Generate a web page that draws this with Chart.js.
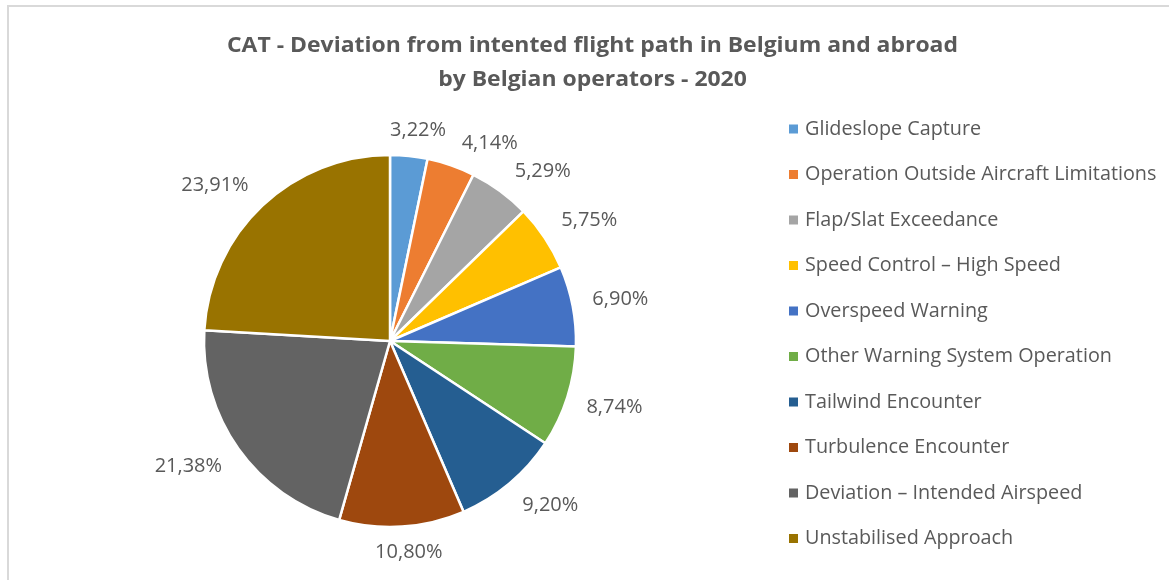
<!DOCTYPE html>
<html>
<head>
<meta charset="utf-8">
<script src="https://cdn.jsdelivr.net/npm/chart.js@4/dist/chart.umd.min.js"></script>
<style>
    html, body { margin: 0; padding: 0; background: #fff; }
    #wrap { position: relative; width: 1169px; height: 580px; }
</style>
</head>
<body>
<div id="wrap"><canvas id="pieChart" width="1169" height="580"></canvas></div>
<script>
// Dữ liệu biểu đồ
const categories = [
    'Glideslope Capture',
    'Operation Outside Aircraft Limitations',
    'Flap/Slat Exceedance',
    'Speed Control \u2013 High Speed',
    'Overspeed Warning',
    'Other Warning System Operation',
    'Tailwind Encounter',
    'Turbulence Encounter',
    'Deviation \u2013 Intended Airspeed',
    'Unstabilised Approach'
];
const percentages = [3.22, 4.14, 5.29, 5.75, 6.90, 8.74, 9.20, 10.80, 21.38, 23.91];
const sliceColors = ['#5B9BD5', '#ED7D31', '#A5A5A5', '#FFC000', '#4472C4', '#70AD47', '#255E91', '#9E480E', '#636363', '#997300'];
const titleLines = ['CAT - Deviation from intented flight path in Belgium and abroad', 'by Belgian operators - 2020'];

const textColor = '#595959';

// Khung viền xám nhạt quanh biểu đồ
const framePlugin = {
    id: 'frame',
    beforeDraw(chart) {
        const ctx = chart.ctx;
        ctx.save();
        ctx.strokeStyle = '#d9d9d9';
        ctx.lineWidth = 2;
        ctx.beginPath();
        ctx.moveTo(8, chart.height + 5);
        ctx.lineTo(8, 6);
        ctx.lineTo(chart.width + 5, 6);
        ctx.stroke();
        ctx.restore();
    }
};

// Tiêu đề 2 dòng, căn giữa theo khung
const titlePlugin = {
    id: 'bigTitle',
    afterDraw(chart) {
        const ctx = chart.ctx;
        ctx.save();
        ctx.font = 'bold 20.5px "Open Sans"';
        ctx.fillStyle = textColor;
        ctx.textAlign = 'center';
        ctx.textBaseline = 'alphabetic';
        const cx = chart.width / 2 + 8;
        const sx = 731 / ctx.measureText(titleLines[0]).width;
        ctx.translate(cx, 0);
        ctx.scale(sx, 1);
        titleLines.forEach((line, i) => ctx.fillText(line, 0, 52 + i * 34));
        ctx.restore();
    }
};

// hệ số mượt: 0 ở giữa, ±1 khi |v| >= 0.4
const ramp = v => Math.sign(v) * Math.min(1, Math.abs(v) / 0.4);

// Nhãn % ngoài lát: góc hộp chữ chạm vào điểm neo, đẩy theo chiều kim đồng hồ nếu chồng nhãn trước
const outsideLabels = {
    id: 'outsideLabels',
    afterDatasetsDraw(chart) {
        const ctx = chart.ctx;
        const meta = chart.getDatasetMeta(0);
        ctx.save();
        ctx.font = '20px "Open Sans"';
        ctx.fillStyle = textColor;
        ctx.textAlign = 'center';
        ctx.textBaseline = 'middle';
        const h = 26;
        let prev = null;
        meta.data.forEach((arc, i) => {
            const p = arc.getProps(['x', 'y', 'startAngle', 'endAngle', 'outerRadius']);
            const txt = percentages[i].toFixed(2).replace('.', ',') + '%';
            const w = ctx.measureText(txt).width;
            const R = p.outerRadius + 20;
            let ang = (p.startAngle + p.endAngle) / 2;
            let box;
            for (let k = 0; k < 40; k++) {
                const cx = Math.cos(ang), cy = Math.sin(ang);
                const x = p.x + cx * R + ramp(cx) * w / 2;
                const y = p.y + cy * R + ramp(cy) * 6;
                box = { x, y, l: x - w / 2, r: x + w / 2, t: y - h / 2, b: y + h / 2 };
                const hit = prev && box.l < prev.r + 12 && box.r > prev.l - 12 && box.t < prev.b && box.b > prev.t;
                if (!hit) break;
                ang += Math.PI / 180;
            }
            ctx.fillText(txt, box.x, box.y);
            prev = box;
        });
        ctx.restore();
    }
};

// Chú thích bên phải
const sideLegend = {
    id: 'sideLegend',
    afterDraw(chart) {
        const ctx = chart.ctx;
        ctx.save();
        ctx.font = '19.8px "Open Sans"';
        ctx.textBaseline = 'middle';
        ctx.textAlign = 'left';
        categories.forEach((name, i) => {
            const y = 129 + i * 45.5;
            ctx.fillStyle = sliceColors[i];
            ctx.fillRect(789, y - 4.5, 9, 9);
            ctx.fillStyle = textColor;
            ctx.fillText(name, 805, y);
        });
        ctx.restore();
    }
};

const ctx = document.getElementById('pieChart').getContext('2d');
new Chart(ctx, {
    type: 'pie',
    data: {
        labels: categories,
        datasets: [{
            data: percentages,
            backgroundColor: sliceColors,
            borderColor: '#ffffff',
            borderWidth: 2.5
        }]
    },
    options: {
        responsive: false,
        animation: false,
        radius: 186,
        layout: { padding: { left: 10, right: 399, top: 102, bottom: 0 } },
        plugins: {
            legend: { display: false },
            tooltip: { enabled: false },
            title: { display: false }
        }
    },
    plugins: [framePlugin, titlePlugin, outsideLabels, sideLegend]
});
</script>
</body>
</html>
